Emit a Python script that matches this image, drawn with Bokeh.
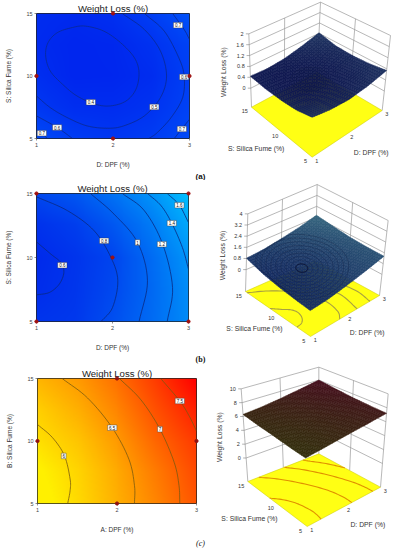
import numpy as np
from bokeh.embed import file_html
from bokeh.layouts import column, row
from bokeh.models import Range1d
from bokeh.plotting import figure
from bokeh.resources import INLINE
from bokeh.core.properties import value

SANS = "Liberation Sans"
D_GRID = [1, 1.5, 2, 2.5, 3]
S_GRID = [5, 7.5, 10, 12.5, 15]
D_TICKS = [1, 2, 3]
S_TICKS = [5, 10, 15]

# Response surfaces: rows S_GRID, columns D_GRID
Z_A = [[.74, .60, .54, .60, .74],
       [.55, .45, .44, .50, .66],
       [.46, .37, .38, .44, .63],
       [.42, .37, .39, .49, .66],
       [.44, .41, .47, .62, .82]]
Z_B = [[.65, .68, .86, 1.08, 1.34],
       [.59, .66, .81, 1.06, 1.36],
       [.57, .65, .78, 1.08, 1.42],
       [.63, .72, .92, 1.20, 1.57],
       [.81, .92, 1.14, 1.40, 1.75]]
Z_C = [[5.6, 5.95, 6.35, 6.75, 7.2],
       [5.7, 6.0, 6.4, 6.85, 7.3],
       [5.9, 6.15, 6.55, 7.05, 7.45],
       [6.05, 6.35, 6.75, 7.25, 7.7],
       [6.3, 6.55, 6.95, 7.45, 8.0]]

# Contour lines (D values, S values, level)
A_LINES = [
    ([1.12, 1.15, 1.27, 1.47, 1.64, 1.88, 2.10, 2.28, 2.34, 2.30, 2.17, 1.97, 1.77, 1.53, 1.34, 1.18, 1.12],
     [11.6, 12.66, 13.46, 13.88, 13.99, 13.59, 12.66, 11.46, 10.27, 8.94, 8.0, 7.61, 7.74, 8.4, 9.34, 10.4, 11.6], .4),
    ([2.12, 2.41, 2.62, 2.70, 2.62, 2.41, 2.14, 1.93, 1.66, 1.40, 1.18, 1.0],
     [15, 13.72, 12.0, 10.0, 8.27, 6.81, 6.01, 5.82, 6.01, 6.68, 7.47, 8.4], .5),
    ([2.41, 2.67, 2.86, 2.93, 2.91, 2.76, 2.58, 2.47],
     [15, 13.59, 11.46, 10, 8.27, 6.68, 5.48, 5], .6),
    ([1, 1.27, 1.47], [6.81, 5.88, 5], .6),
    ([2.78, 2.93, 3], [15, 13.72, 12.93], .7),
    ([1, 1.07, 1.14], [5.61, 5.43, 5], .7),
    ([2.8, 2.9, 3], [5, 5.77, 6.54], .7),
]
A_LABEL_D = [1.71, 2.54, 1.27, 1.07, 2.93, 2.85, 2.9]
A_LABEL_S = [7.9, 7.53, 5.88, 5.43, 9.92, 14.07, 5.77]
A_LABEL_T = ["0.4", "0.5", "0.6", "0.7", "0.6", "0.7", "0.7"]
A_POINT_D = [2, 1, 3, 2]
A_POINT_S = [15, 10, 10, 5]

B_LINES = [
    ([1, 1.19, 1.32, 1.36, 1.30, 1.17, 1], [11.22, 10.26, 9.61, 8.83, 7.92, 7.27, 7.08], .6),
    ([1, 1.41, 1.76, 1.98, 2.07, 2.0, 1.85], [14.74, 13.65, 12.08, 10, 8.18, 6.09, 5], .8),
    ([1.71, 2.02, 2.33, 2.46, 2.35], [15, 13.39, 11.17, 8.18, 5], 1.0),
    ([2.13, 2.42, 2.66, 2.79, 2.72], [15, 13.65, 11.04, 7.66, 5], 1.2),
    ([2.46, 2.64, 2.78, 2.92, 3], [15, 14.04, 12.68, 10.78, 9.09], 1.4),
    ([2.72, 2.88, 3], [15, 14.09, 12.73], 1.6),
]
B_LABEL_D = [1.34, 1.89, 2.33, 2.65, 2.78, 2.88]
B_LABEL_S = [9.4, 11.3, 11.17, 11.04, 12.68, 14.09]
B_LABEL_T = ["0.6", "0.8", "1", "1.2", "1.4", "1.6"]
B_POINT_D = [1, 3, 1, 3, 2]
B_POINT_S = [15, 15, 5, 5, 10]

C_LINES = [
    ([1, 1.19, 1.34, 1.41, 1.41, 1.38], [11.32, 10.26, 8.81, 6.96, 6.03, 5], 6.0),
    ([1.31, 1.63, 1.94, 2.15, 2.22, 2.22], [15, 13.44, 11.06, 8.54, 6.43, 5], 6.5),
    ([2.03, 2.30, 2.54, 2.72, 2.78, 2.79], [15, 13.3, 10.95, 8.28, 6.43, 5], 7.0),
    ([2.55, 2.79, 2.91, 3], [15, 13.2, 11.98, 10.79], 7.5),
]
C_LABEL_D = [1.33, 1.94, 2.54, 2.79]
C_LABEL_S = [8.81, 11.06, 10.95, 13.2]
C_LABEL_T = ["6", "6.5", "7", "7.5"]
C_POINT_D = [2, 1, 3, 2]
C_POINT_S = [15, 10, 10, 5]

TICKS_Z_A = [0, .4, .8, 1.2, 1.6, 2]
TICKS_Z_B = [0, .8, 1.6, 2.4, 3.2, 4]
TICKS_Z_C = [0, 2, 4, 6, 8, 10]
TITLE = "Weight Loss (%)"


def smooth(xs, ys, steps=8):
    """Catmull-Rom drawing of a hand-read contour through its read points."""
    p = np.column_stack([xs, ys]).astype(float)
    if len(p) < 3:
        return p[:, 0], p[:, 1]
    closed = np.allclose(p[0], p[-1])
    if closed:
        q = np.vstack([p[-2], p, p[1]])
    else:
        q = np.vstack([2 * p[0] - p[1], p, 2 * p[-1] - p[-2]])
    out = []
    for i in range(1, len(q) - 2):
        for t in np.linspace(0, 1, steps, endpoint=False):
            out.append(0.5 * (2 * q[i] + (q[i + 1] - q[i - 1]) * t
                              + (2 * q[i - 1] - 5 * q[i] + 4 * q[i + 1] - q[i + 2]) * t ** 2
                              + (3 * q[i] - q[i - 1] - 3 * q[i + 1] + q[i + 2]) * t ** 3))
    out.append(q[-2])
    out = np.array(out)
    return np.clip(out[:, 0], 1, 3), np.clip(out[:, 1], 5, 15)


def table_at(table, d, s):
    t = np.asarray(table, float)
    d = np.atleast_1d(d)
    s = np.atleast_1d(s)
    by_d = np.array([np.interp(d, D_GRID, r) for r in t])
    return np.array([np.interp(si, S_GRID, by_d[:, i]) for i, si in enumerate(s)])


def lerp_colour(lo, hi, f):
    f = np.clip(f, 0, 1)[..., None]
    return np.array(lo) * (1 - f) + np.array(hi) * f


def contour_panel(table, lines, lab_d, lab_s, lab_t, pt_d, pt_s, lo, hi, zlo, zhi,
                  xname, yname, line_col, h, top, bottom, left, right, point_col):
    p = figure(width=200, height=h, toolbar_location=None, output_backend="svg",
               x_range=Range1d(1, 3), y_range=Range1d(5, 15), title=TITLE,
               min_border_left=left, min_border_right=200 - right,
               min_border_top=top, min_border_bottom=h - bottom,
               background_fill_color=None, border_fill_color=None)
    p.title.align = "center"
    p.title.standoff = 0
    p.title.text_font = SANS
    p.title.text_font_size = "9.6px"
    p.title.text_font_style = "normal"
    p.title.text_color = "#222222"
    dd = np.linspace(1, 3, 160)
    ss = np.linspace(5, 15, 126)
    z = np.array([np.interp(dd, D_GRID, c) for c in
                  np.array([np.interp(ss, S_GRID, c) for c in np.asarray(table, float).T]).T])
    rgb = lerp_colour(lo, hi, (z - zlo) / (zhi - zlo)).astype(np.uint8)
    img = np.zeros(z.shape, dtype=np.uint32)
    v = img.view(np.uint8).reshape(z.shape + (4,))
    v[..., :3] = rgb
    v[..., 3] = 255
    p.image_rgba(image=[img], x=1, y=5, dw=2, dh=10)
    for ld, ls, _ in lines:
        sx, sy = smooth(ld, ls)
        p.line(sx, sy, line_color=line_col, line_width=0.8)
    p.rect(lab_d, lab_s, width=[2.6 + 2.2 * len(t) for t in lab_t], height=5.5,
           width_units="screen", height_units="screen",
           fill_color="white", line_color="#333333", line_width=0.4)
    p.text(lab_d, lab_s, text=lab_t, text_font=value(SANS), text_font_size="4.5px",
           text_align="center", text_baseline="middle", text_color="#111111")
    p.scatter(pt_d, pt_s, size=3.2, color=point_col, level="overlay")
    p.outline_line_color = "#222222"
    p.grid.visible = False
    p.xaxis.ticker = D_TICKS
    p.yaxis.ticker = S_TICKS
    p.xaxis.axis_label = xname
    p.yaxis.axis_label = yname
    for ax in (p.xaxis[0], p.yaxis[0]):
        ax.axis_line_color = None
        ax.major_tick_line_color = "#444444"
        ax.major_tick_line_width = 0.6
        ax.major_tick_out = 2
        ax.major_tick_in = 0
        ax.minor_tick_line_color = None
        ax.major_label_text_font = SANS
        ax.major_label_text_font_size = "5.5px"
        ax.major_label_text_color = "#444444"
        ax.axis_label_text_font = SANS
        ax.axis_label_text_font_size = "6.5px"
        ax.axis_label_text_font_style = "normal"
        ax.axis_label_text_color = "#333333"
    p.xaxis[0].major_label_standoff = 2
    p.xaxis[0].axis_label_standoff = 11
    p.yaxis[0].major_label_standoff = 2
    p.yaxis[0].axis_label_standoff = 11
    p.yaxis[0].major_label_orientation = "horizontal"
    return p


def surface_panel(table, lines, zticks, zfloor, corners_floor, corners_top, lo, hi,
                  floor_line, h, caption, cap_font, cap_style, cap_y, labels, ring_d, ring_s, ring_rx, ring_ry):
    p = figure(title=None, frame_width=203, frame_height=h, toolbar_location=None, output_backend="svg",
               x_range=Range1d(-9, 600), y_range=Range1d(h * 3, 0),
               x_axis_type=None, y_axis_type=None,
               min_border=0, background_fill_color=None, border_fill_color=None)
    p.grid.visible = False
    p.outline_line_color = None

    cf = {k: np.array(c, float) for k, c in corners_floor.items()}
    ct = {k: np.array(c, float) for k, c in corners_top.items()}
    ztop = zticks[-1]

    def proj(d, s, z):
        d, s, z = np.atleast_1d(d), np.atleast_1d(s), np.atleast_1d(z)
        u = (d - 1) / 2.0
        v = (s - 5) / 10.0
        w = (z - zfloor) / (ztop - zfloor)
        out = []
        for i in (0, 1):
            fl = ((1-u)*(1-v)*cf["F"][i] + u*(1-v)*cf["R"][i] + (1-u)*v*cf["L"][i] + u*v*cf["B"][i])
            tp = ((1-u)*(1-v)*ct["F"][i] + u*(1-v)*ct["R"][i] + (1-u)*v*ct["L"][i] + u*v*ct["B"][i])
            out.append(fl * (1 - w) + tp * w)
        return out

    wall = dict(line_color="#9a9a9a", line_width=0.7)
    for zt in zticks:
        x, y = proj([1, 3, 3], [15, 15, 5], [zt] * 3)
        p.line(x, y, **wall)
    for wd, ws in ((1, 15), (2, 15), (3, 15), (3, 10), (3, 5)):
        x, y = proj([wd, wd], [ws, ws], [zfloor, ztop])
        p.line(x, y, **wall)

    x, y = proj([1, 3, 3, 1], [5, 5, 15, 15], [zfloor] * 4)
    p.patch(x, y, fill_color="#ffff14", line_color="#c8c800", line_width=0.5)
    if floor_line:
        for ld, ls, _ in lines:
            sx, sy = smooth(ld, ls)
            x, y = proj(sx, sy, [zfloor] * len(sx))
            p.line(x, y, line_color=floor_line, line_width=1.1)

    n = 30
    ed = np.linspace(3, 1, n + 1)
    es = np.linspace(15, 5, n + 1)
    xs, ys, cols = [], [], []
    zmin, zmax = np.min(table), np.max(table)
    for i in range(n):
        for j in range(n):
            qd = [ed[i], ed[i + 1], ed[i + 1], ed[i]]
            qs = [es[j], es[j], es[j + 1], es[j + 1]]
            qz = [table_at(table, a, b)[0] for a, b in zip(qd, qs)]
            x, y = proj(qd, qs, qz)
            xs.append(list(x)); ys.append(list(y))
            c = lerp_colour(lo, hi, np.array((np.mean(qz) - zmin) / (zmax - zmin)))
            cols.append("#%02x%02x%02x" % tuple(int(a) for a in c))
    p.patches(xs, ys, fill_color=cols, line_color=cols, line_width=0.5)

    ang = np.linspace(0, 2 * np.pi, 49)
    strong = len(ring_rx) > 6
    for k, (rx, ry) in enumerate(zip(ring_rx, ring_ry)):
        rd = ring_d + rx * np.cos(ang)
        rs = ring_s + ry * np.sin(ang)
        keep = (rd >= 1) & (rd <= 3) & (rs >= 5) & (rs <= 15)
        rd, rs = rd[keep], rs[keep]
        if len(rd) < 3:
            continue
        x, y = proj(rd, rs, table_at(table, rd, rs))
        first = strong and k == 0
        p.line(x, y, line_color="#0a1030" if first else "#10183a",
               line_width=1.0 if first else 0.5, line_alpha=1 if first else 0.55)

    text = dict(text_font=value(SANS), text_baseline="middle", text_color="#333333")
    x, y = proj([1] * len(zticks), [15] * len(zticks), zticks)
    p.text(list(x - 16), list(y), text=[str(t) for t in zticks], text_font_size="5.5px",
           text_align="right", **text)
    for zt in zticks:
        x, y = proj([1], [15], [zt])
        p.segment(x - 9, y, x, y, line_color="#666666", line_width=0.5)
    # floor ticks
    x, y = proj([1, 1, 1], [15, 10, 5], [zfloor] * 3)
    p.text(list(x - 20), list(y + 12), text=["15", "10", "5"], text_font_size="5.5px", text_align="center", **text)
    x, y = proj([1, 2, 3], [5, 5, 5], [zfloor] * 3)
    p.text(list(x + 14), list(y + 10), text=["1", "2", "3"], text_font_size="5.5px", text_align="center", **text)
    p.text([labels["z"][0]], [labels["z"][1]], text=[TITLE], angle=np.pi / 2, text_font_size="6.8px",
           text_align="center", **text)
    p.text([labels["s"][0]], [labels["s"][1]], text=["S: Silica Fume (%)"], text_font_size="6.8px",
           text_align="center", **text)
    p.text([labels["d"][0]], [labels["d"][1]], text=["D: DPF (%)"], text_font_size="6.8px",
           text_align="center", **text)
    p.text([15], [cap_y], text=[caption], text_font=value(cap_font), text_font_style=cap_style,
           text_font_size="8px", text_align="center", text_baseline="middle", text_color="#111111")
    return column(p, margin=(0, 0, 0, -8))


BLUE_LO_A, BLUE_HI_A = (0, 38, 238), (0, 85, 250)
BLUE_LO_B, BLUE_HI_B = (0, 40, 235), (0, 190, 255)
HOT_LO, HOT_HI = (255, 240, 0), (255, 0, 0)

la = contour_panel(Z_A, A_LINES, A_LABEL_D, A_LABEL_S, A_LABEL_T, A_POINT_D, A_POINT_S,
                   BLUE_LO_A, BLUE_HI_A, .37, .85, "D: DPF (%)", "S: Silica Fume (%)", "#0a2a90",
                   180, 12, 138, 36, 189, "#a01010")
lb = contour_panel(Z_B, B_LINES, B_LABEL_D, B_LABEL_S, B_LABEL_T, B_POINT_D, B_POINT_S,
                   BLUE_LO_B, BLUE_HI_B, .55, 1.75, "D: DPF (%)", "S: Silica Fume (%)", "#0a2a80",
                   185, 13, 141, 36, 188, "#a01010")
lc = contour_panel(Z_C, C_LINES, C_LABEL_D, C_LABEL_S, C_LABEL_T, C_POINT_D, C_POINT_S,
                   HOT_LO, HOT_HI, 5.75, 8.0, "A: DPF (%)", "B: Silica Fume (%)", "#7a5a10",
                   185, 12, 138, 37, 196, "#901010")

ra = surface_panel(Z_A, A_LINES, TICKS_Z_A, -0.70,
                   dict(F=(350, 470), L=(168, 320), R=(560, 330), B=(365, 215)),
                   dict(F=(350, 246), L=(160, 100), R=(585, 105), B=(375, 5)),
                   (16, 24, 80), (34, 56, 100), None, 180, "(a)", SANS, "bold", 527,
                   dict(z=(85, 215), s=(182, 445), d=(527, 455)),
                   1.95, 10.8, np.array([.1, .16, .22, .28, .34, .4]), np.array([.5, .8, 1.1, 1.4, 1.7, 2.0]))
rb = surface_panel(Z_B, B_LINES, TICKS_Z_B, -1.57,
                   dict(F=(345, 468), L=(150, 333), R=(552, 345), B=(360, 240)),
                   dict(F=(343, 273), L=(157, 100), R=(578, 120), B=(365, 12)),
                   (22, 44, 98), (56, 104, 128), "#a8a040", 185, "(b)", "Liberation Serif", "bold", 538,
                   dict(z=(80, 225), s=(177, 445), d=(515, 457)),
                   1.75, 10.5, np.array([.12, .22, .32, .42, .52, .62, .72, .82, .92]),
                   np.array([.65, 1.2, 1.75, 2.3, 2.85, 3.4, 3.95, 4.5, 5.05]))
rc = surface_panel(Z_C, C_LINES, TICKS_Z_C, -3.4,
                   dict(F=(335, 483), L=(157, 348), R=(555, 365), B=(370, 265)),
                   dict(F=(328, 177), L=(137, 70), R=(578, 85), B=(370, 5)),
                   (52, 48, 14), (70, 14, 30), "#e09000", 185, "(c)", "Liberation Serif", "italic", 535,
                   dict(z=(73, 215), s=(162, 459), d=(517, 477)),
                   2, 10, np.array([]), np.array([]))

page = column(row(la, ra, spacing=0), row(lb, rb, spacing=0), row(lc, rc, spacing=0), spacing=0)
open("out.html", "w").write(file_html(page, INLINE))
